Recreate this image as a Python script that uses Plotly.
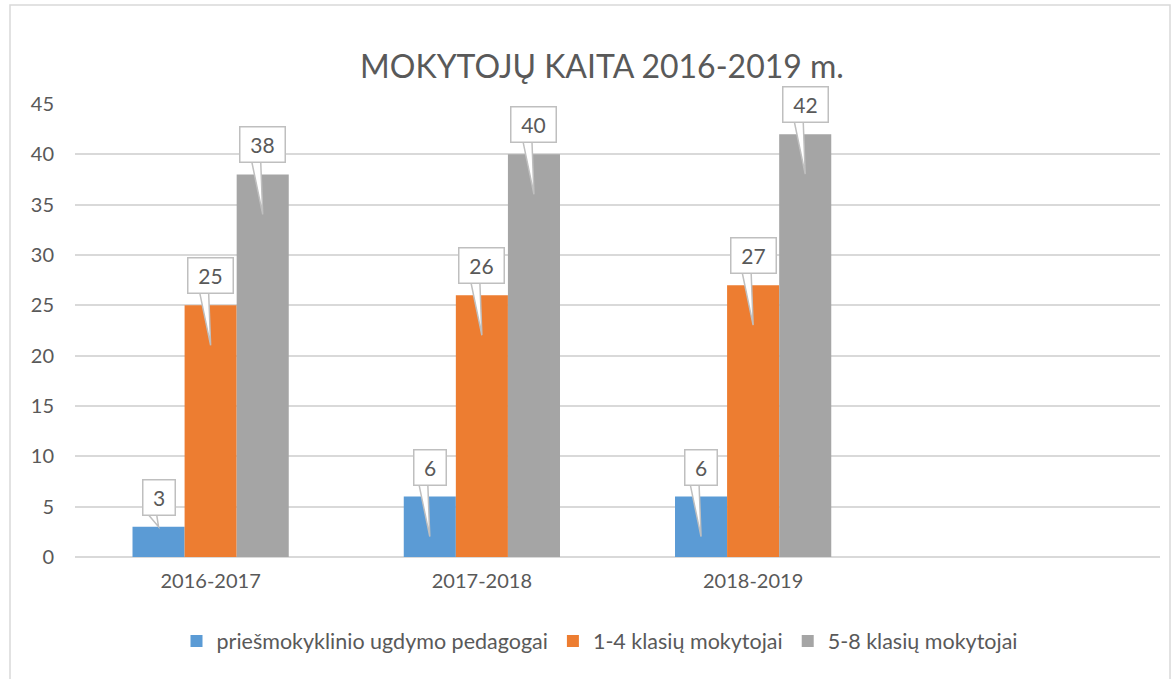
import plotly.graph_objects as go

categories = ["2016-2017", "2017-2018", "2018-2019"]
series_names = ["priešmokyklinio ugdymo pedagogai", "1-4 klasių mokytojai", "5-8 klasių mokytojai"]
preschool = [3, 6, 6]
grades_1_4 = [25, 26, 27]
grades_5_8 = [38, 40, 42]
colors = ["#5B9BD5", "#ED7D31", "#A5A5A5"]
title_text = "MOKYTOJŲ KAITA 2016-2019 m."
y_ticks = [0, 5, 10, 15, 20, 25, 30, 35, 40, 45]

FONT = "Lato"
TXT = "#595959"
GRID = "#d9d9d9"

W, H = 1171, 679
ML, MR, MT, MB = 75, 11, 104, 122
plot_w = W - ML - MR
plot_h = H - MT - MB

bargap = 0.424
n_series = 3
bar_w = (1 - bargap) / n_series  # data units per bar
x_idx = list(range(len(categories)))

fig = go.Figure()
all_series = [preschool, grades_1_4, grades_5_8]
for name, vals, col in zip(series_names, all_series, colors):
    fig.add_trace(go.Bar(x=x_idx, y=vals, name=name, marker=dict(color=col, line=dict(width=0))))

# callout labels
annotations = []
shapes = []
for si, vals in enumerate(all_series):
    for ci, v in enumerate(vals):
        cx = ci + (si - 1) * bar_w
        tip = -40 if v >= 5 else 0
        shapes.append(dict(
            type="path", xref="x", yref="y", xsizemode="pixel", ysizemode="pixel",
            xanchor=cx, yanchor=v,
            path=f"M-11,13 L-2,13 L0,{tip} Z",
            fillcolor="white", line=dict(color="#bfbfbf", width=1.5), layer="above",
        ))
        txt = str(v)
        annotations.append(dict(
            x=cx, y=v, xref="x", yref="y", text=txt, showarrow=False,
            yanchor="bottom", xanchor="center", yshift=11,
            width=13 * len(txt) + 14, height=30,
            font=dict(family=FONT, size=21, color=TXT),
            bgcolor="white", bordercolor="#bfbfbf", borderwidth=1.5, borderpad=2,
        ))

# chart border
shapes.append(dict(
    type="rect", xref="paper", yref="paper",
    x0=(10 - ML) / plot_w, x1=(1170 - ML) / plot_w,
    y0=(H - MB - 700) / plot_h, y1=(H - MB - 5) / plot_h,
    line=dict(color=GRID, width=1.5), fillcolor="rgba(0,0,0,0)", layer="below",
))

fig.update_layout(
    width=W, height=H,
    margin=dict(l=ML, r=MR, t=MT, b=MB, autoexpand=False),
    paper_bgcolor="white", plot_bgcolor="white",
    barmode="group", bargap=bargap, bargroupgap=0,
    font=dict(family=FONT, color=TXT, size=20),
    title=dict(text=title_text, font=dict(family=FONT, size=32, color=TXT),
               x=(602 - ML) / plot_w, xref="paper", xanchor="center",
               y=1 - 67 / H, yref="container", yanchor="middle"),
    xaxis=dict(range=[-0.5, 3.5], tickvals=x_idx, ticktext=categories,
               showgrid=False, zeroline=False, showline=False, ticks="",
               ticklabelstandoff=10, tickfont=dict(family=FONT, size=20, color=TXT)),
    yaxis=dict(range=[0, 45], tickvals=y_ticks, showgrid=True, gridcolor=GRID, gridwidth=2,
               zeroline=True, zerolinecolor=GRID, zerolinewidth=2, showline=False, ticks="",
               ticklabelstandoff=20, tickfont=dict(family=FONT, size=20, color=TXT)),
    legend=dict(orientation="h", x=(600 - ML) / plot_w, xanchor="center",
                y=1 - 641 / H, yref="container", yanchor="middle",
                font=dict(family=FONT, size=21.5, color=TXT), itemwidth=30),
    annotations=annotations, shapes=shapes,
    showlegend=True,
)

fig.write_html("out.html", config={"displayModeBar": False},
               post_script="document.body.style.margin='0';document.body.style.overflow='hidden';")
